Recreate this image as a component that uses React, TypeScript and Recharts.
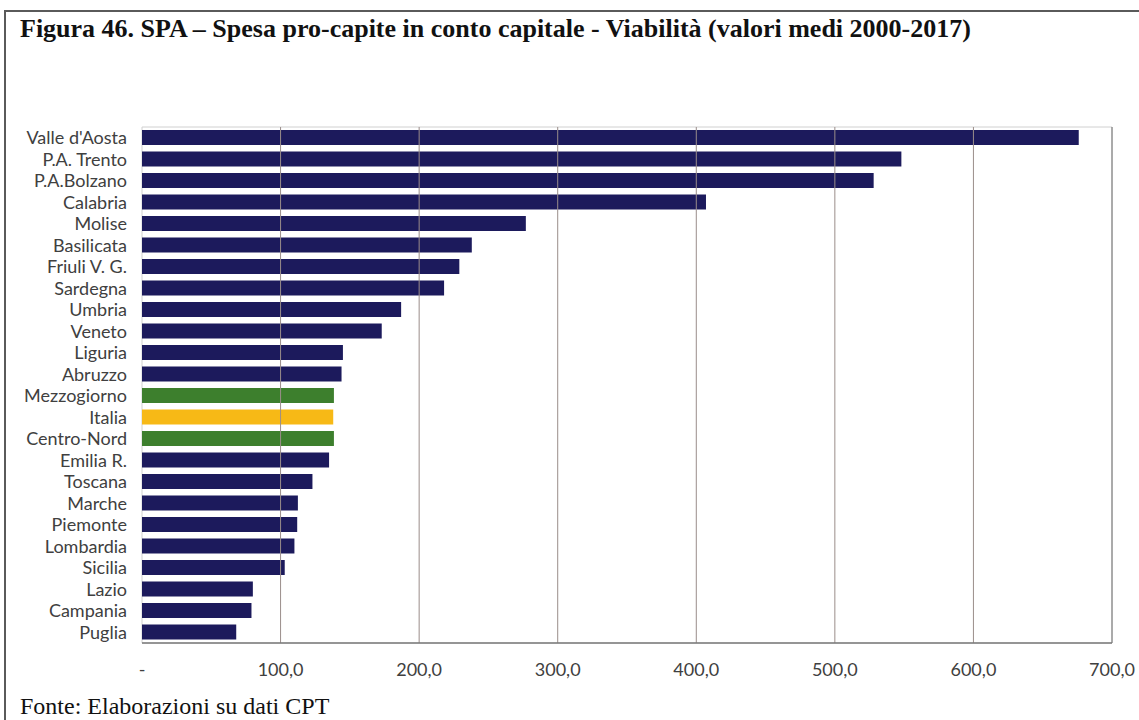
import React from "react";
import {
  BarChart,
  Bar,
  Cell,
  XAxis,
  YAxis,
  ReferenceLine,
  ReferenceArea,
} from "recharts";

const regions = [
  "Valle d'Aosta",
  "P.A. Trento",
  "P.A.Bolzano",
  "Calabria",
  "Molise",
  "Basilicata",
  "Friuli V. G.",
  "Sardegna",
  "Umbria",
  "Veneto",
  "Liguria",
  "Abruzzo",
  "Mezzogiorno",
  "Italia",
  "Centro-Nord",
  "Emilia R.",
  "Toscana",
  "Marche",
  "Piemonte",
  "Lombardia",
  "Sicilia",
  "Lazio",
  "Campania",
  "Puglia",
];

const spesa = [
  676, 548, 528, 407, 277, 238, 229, 218, 187, 173, 145, 144, 138.5, 138,
  138.5, 135, 123, 112.5, 112, 110, 103, 80, 79, 68,
];

const xTicks = [0, 100, 200, 300, 400, 500, 600, 700];

const macroAree = ["Mezzogiorno", "Centro-Nord"];
const nazionale = ["Italia"];

const NAVY = "#1c1a5c";
const GREEN = "#3d7f2d";
const YELLOW = "#f7b916";

const data = regions.map((r, i) => ({ name: r, value: spesa[i] }));

function barColor(name: string) {
  if (nazionale.includes(name)) return YELLOW;
  if (macroAree.includes(name)) return GREEN;
  return NAVY;
}

function fmtTick(v: number) {
  if (v === 0) return "-";
  return v.toFixed(1).replace(".", ",");
}

const tickFont = { fontFamily: "Lato, sans-serif", fontSize: 18, fill: "#404040" };

export default function App() {
  return (
    <div
      style={{
        position: "absolute",
        left: 0,
        top: 0,
        width: 1139,
        height: 720,
        background: "#fff",
        overflow: "hidden",
      }}
    >
      <div
        style={{
          position: "absolute",
          left: 4,
          top: 10,
          width: 1200,
          height: 800,
          borderLeft: "2px solid #5a5a5a",
          borderTop: "2px solid #5a5a5a",
        }}
      />
      <div
        style={{
          position: "absolute",
          left: 20,
          top: 14,
          fontFamily: "'Liberation Serif', serif",
          fontWeight: "bold",
          fontSize: 26,
          color: "#111",
          whiteSpace: "nowrap",
        }}
      >
        Figura 46. SPA – Spesa pro-capite in conto capitale - Viabilità (valori medi 2000-2017)
      </div>
      <div style={{ position: "absolute", left: 0, top: 0 }}>
        <BarChart
          width={1139}
          height={720}
          data={data}
          layout="vertical"
          margin={{ top: 127, right: 27, bottom: 27, left: 0 }}
        >
          <ReferenceArea
            x1={0}
            x2={700}
            fill="none"
            stroke="#d0d0d0"
            strokeWidth={1}
          />
          {xTicks
            .filter((t) => t > 0)
            .map((t) => (
              <ReferenceLine
                key={t}
                x={t}
                stroke={t === 700 ? "#6e6e6e" : "#9a8d8a"}
                strokeWidth={1}
              />
            ))}
          <XAxis
            type="number"
            domain={[0, 700]}
            ticks={xTicks}
            tickFormatter={fmtTick}
            tick={tickFont}
            tickLine={false}
            tickMargin={14}
            axisLine={{ stroke: "#7a7a7a", strokeWidth: 1.5 }}
            height={50}
          />
          <YAxis
            type="category"
            dataKey="name"
            width={142}
            tick={tickFont}
            tickLine={false}
            axisLine={false}
            tickMargin={9}
            interval={0}
          />
          <Bar dataKey="value" barSize={15} isAnimationActive={false}>
            {data.map((d) => (
              <Cell key={d.name} fill={barColor(d.name)} />
            ))}
          </Bar>
        </BarChart>
      </div>
      <div
        style={{
          position: "absolute",
          left: 20,
          top: 693,
          fontFamily: "'Liberation Serif', serif",
          fontSize: 24,
          color: "#111",
          whiteSpace: "nowrap",
        }}
      >
        Fonte: Elaborazioni su dati CPT
      </div>
    </div>
  );
}
